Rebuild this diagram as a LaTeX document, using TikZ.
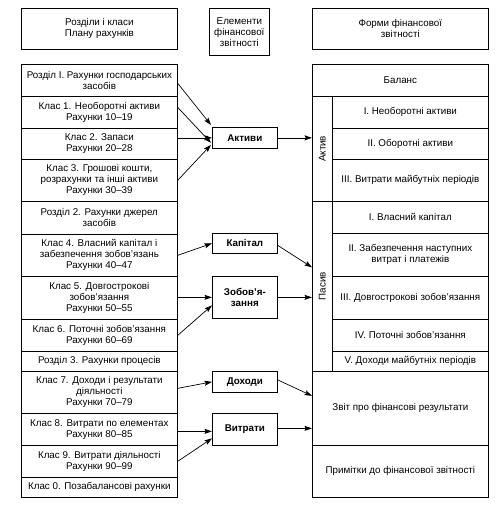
\documentclass[tikz,border=0pt]{standalone}
\usepackage{fontspec}
\setmainfont{Liberation Sans}
\usetikzlibrary{arrows.meta,calc}
\tikzset{
  cell/.style={draw, line width=0.7pt, inner sep=0pt, anchor=north west, align=center, font=\fontsize{9.8}{11}\selectfont},
  elem/.style={cell, font=\fontsize{9.8}{11}\selectfont\bfseries},
  arr/.style={line width=0.7pt, -{Stealth[length=7.5pt,width=5pt,inset=1.3pt]}},
  sidelbl/.style={font=\fontsize{9.8}{11}\selectfont, rotate=90}
}
\begin{document}
\begin{tikzpicture}[x=1pt,y=-1pt]
\useasboundingbox (0,0) rectangle (504,507);
% headers
\node[cell, minimum width=156pt, minimum height=41pt] (H1) at (21,8) {Розділи і класи\\Плану рахунків};
\node[cell, minimum width=60pt, minimum height=47pt] (H2) at (209,8) {Елементи\\фінансової\\звітності};
\node[cell, minimum width=176pt, minimum height=41pt] (H3) at (312,8) {Форми фінансової\\звітності};
% left column
\node[cell, minimum width=156pt, minimum height=32pt] (L0) at (21,64) {Розділ І. Рахунки господарських\\засобів};
\node[cell, minimum width=156pt, minimum height=32pt] (L1) at (21,96) {Клас 1. Необоротні активи\\Рахунки 10–19};
\node[cell, minimum width=156pt, minimum height=31pt] (L2) at (21,128) {Клас 2. Запаси\\Рахунки 20–28};
\node[cell, minimum width=156pt, minimum height=42pt] (L3) at (21,159) {Клас 3. Грошові кошти,\\розрахунки та інші активи\\Рахунки 30–39};
\node[cell, minimum width=156pt, minimum height=33pt] (L4) at (21,201) {Розділ 2. Рахунки джерел\\засобів};
\node[cell, minimum width=156pt, minimum height=42pt] (L5) at (21,234) {Клас 4. Власний капітал і\\забезпечення зобов’язань\\Рахунки 40–47};
\node[cell, minimum width=156pt, minimum height=43pt] (L6) at (21,276) {Клас 5. Довгострокові\\зобов’язання\\Рахунки 50–55};
\node[cell, minimum width=156pt, minimum height=32pt] (L7) at (21,319) {Клас 6. Поточні зобов’язання\\Рахунки 60–69};
\node[cell, minimum width=156pt, minimum height=20pt] (L8) at (21,351) {Розділ 3. Рахунки процесів};
\node[cell, minimum width=156pt, minimum height=42pt] (L9) at (21,371) {Клас 7. Доходи і результати\\діяльності\\Рахунки 70–79};
\node[cell, minimum width=156pt, minimum height=32pt] (L10) at (21,413) {Клас 8. Витрати по елементах\\Рахунки 80–85};
\node[cell, minimum width=156pt, minimum height=32pt] (L11) at (21,445) {Клас 9. Витрати діяльності\\Рахунки 90–99};
\node[cell, minimum width=156pt, minimum height=20pt] (L12) at (21,477) {Клас 0. Позабалансові рахунки};
% middle elements
\node[elem, minimum width=65pt, minimum height=21pt] (E1) at (212,127) {Активи};
\node[elem, minimum width=65pt, minimum height=20pt] (E2) at (212,233) {Капітал};
\node[elem, minimum width=65pt, minimum height=42pt] (E3) at (212,276) {Зобов’я-\\зання};
\node[elem, minimum width=65pt, minimum height=21pt] (E4) at (212,371) {Доходи};
\node[elem, minimum width=65pt, minimum height=32pt] (E5) at (212,413) {Витрати};
% right column
\node[cell, minimum width=176pt, minimum height=32pt] (R0) at (312,64) {Баланс};
\node[cell, minimum width=20pt, minimum height=105pt] (SA) at (312,96) {};
\node[sidelbl] at (SA.center) {Актив};
\node[cell, minimum width=156pt, minimum height=32pt] (R1) at (332,96) {І. Необоротні активи};
\node[cell, minimum width=156pt, minimum height=31pt] (R2) at (332,128) {ІІ. Оборотні активи};
\node[cell, minimum width=156pt, minimum height=42pt] (R3) at (332,159) {ІІІ. Витрати майбутніх періодів};
\node[cell, minimum width=20pt, minimum height=170pt] (SP) at (312,201) {};
\node[sidelbl] at (SP.center) {Пасив};
\node[cell, minimum width=156pt, minimum height=32pt] (R4) at (332,201) {І. Власний капітал};
\node[cell, minimum width=156pt, minimum height=43pt] (R5) at (332,233) {ІІ. Забезпечення наступних\\витрат і платежів};
\node[cell, minimum width=156pt, minimum height=43pt] (R6) at (332,276) {ІІІ. Довгострокові зобов’язання};
\node[cell, minimum width=156pt, minimum height=32pt] (R7) at (332,319) {ІV. Поточні зобов’язання};
\node[cell, minimum width=156pt, minimum height=20pt] (R8) at (332,351) {V. Доходи майбутніх періодів};
\node[cell, minimum width=176pt, minimum height=74pt] (R9) at (312,371) {Звіт про фінансові результати};
\node[cell, minimum width=176pt, minimum height=52pt] (R10) at (312,445) {Примітки до фінансової звітності};
% arrows to Активи
\draw[arr] ([yshift=-3pt]L0.east) -- ([xshift=-1pt,yshift=2pt]E1.north west);
\draw[arr] ([yshift=5pt]L1.east) -- ([xshift=-1pt,yshift=-5pt]E1.west);
\draw[arr] (L2.east |- E1.west) -- (E1.west);
\draw[arr] (L3.east) -- ([xshift=-1pt,yshift=-7pt]E1.west);
\draw[arr] (E1.east) -- (E1.east -| SA.west);
% Капітал
\draw[arr] (L5.east) -- (E2.west);
\draw[arr] ([yshift=-2pt]E2.east) -- ([yshift=-24pt]E2.east -| SP.west);
% Зобов'язання
\draw[arr] (L6.east |- E3.west) -- (E3.west);
\draw[arr] (L7.east) -- ([yshift=-8pt]E3.west);
\draw[arr] (E3.east) -- (E3.east -| SP.west);
% Доходи
\draw[arr] ([yshift=4pt]L9.east) -- (E4.west);
\draw[arr] ([yshift=2pt]E4.east) -- ([yshift=-14pt]E4.east -| R9.west);
% Витрати
\draw[arr] ([yshift=-2pt]L10.east) -- ([yshift=-2pt]E5.west);
\draw[arr] (L11.east) -- ([yshift=-9pt]E5.west);
\draw[arr] ([yshift=1pt]E5.east) -- ([yshift=1pt]E5.east -| R9.west);
\end{tikzpicture}
\end{document}
